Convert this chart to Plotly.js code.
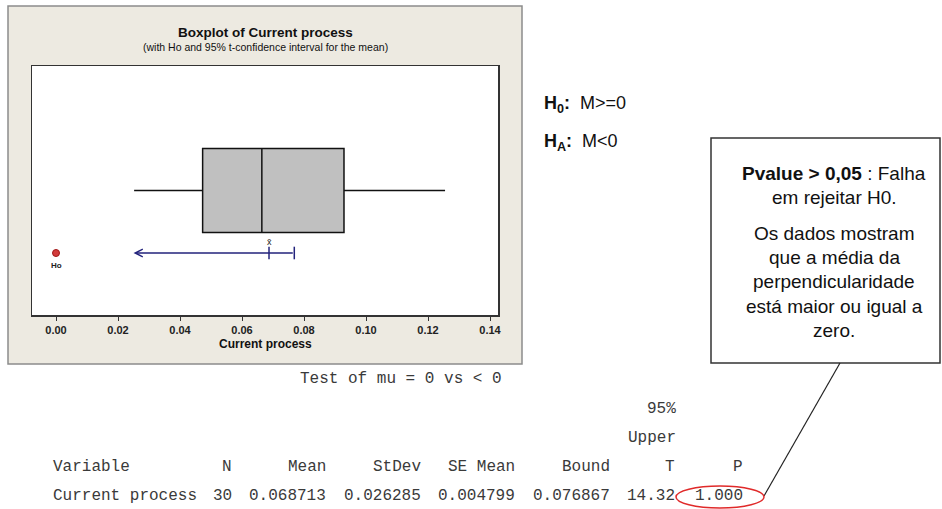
<!DOCTYPE html>
<html>
<head>
<meta charset="utf-8">
<script src="https://cdn.plot.ly/plotly-3.0.1.min.js"></script>
<style>
html,body{margin:0;padding:0;background:#ffffff;}
#chart{width:942px;height:509px;}
</style>
</head>
<body>
<div id="chart"></div>
<script>
// ---------- data ----------
const boxPosition   = [0.5];
const q1Values      = [0.0473];
const medianValues  = [0.0664];
const q3Values      = [0.0929];
const lowerWhisker  = [0.0252];
const upperWhisker  = [0.1255];
const hoValue       = [0.00];
const meanValue     = [0.068713];
const upperBound    = [0.076867];
const arrowTip      = [0.025];
const ciLevel       = [0.249];
const xTickValues   = [0.00, 0.02, 0.04, 0.06, 0.08, 0.10, 0.12, 0.14];

const chartTitle    = 'Boxplot of Current process';
const chartSubtitle = '(with Ho and 95% t-confidence interval for the mean)';
const xAxisTitle    = 'Current process';

const hypothesisLines = ['<b>H<sub>0</sub>:</b>&nbsp; M&gt;=0', '<b>H<sub>A</sub>:</b>&nbsp; M&lt;0'];
const calloutLines = ['<b>Pvalue &gt; 0,05</b> : Falha', 'em rejeitar H0.', 'Os dados mostram',
                      'que a média da', 'perpendicularidade', 'está maior ou igual a', 'zero.'];

const testLine      = 'Test of mu = 0 vs &lt; 0';
const headerTop     = ['95%', 'Upper'];
const tableHeaders  = ['Variable', 'N', 'Mean', 'StDev', 'SE Mean', 'Bound', 'T', 'P'];
const tableRow      = ['Current process', '30', '0.068713', '0.026285', '0.004799', '0.076867', '14.32', '1.000'];

// ---------- layout helpers (pixel -> paper) ----------
const L = 32, T = 66, W = 466, H = 249;
const px = x => (x - L) / W;
const py = y => (T + H - y) / H;

const navy = '#23237c';
const mono = 'Liberation Mono, Courier New, monospace';
const sans = 'Liberation Sans, Arial, sans-serif';

const traces = [
  {
    type: 'box', orientation: 'h',
    y: boxPosition, q1: q1Values, median: medianValues, q3: q3Values,
    lowerfence: lowerWhisker, upperfence: upperWhisker,
    width: 0.337, whiskerwidth: 0, boxpoints: false,
    fillcolor: '#c0c0c0', line: {color: '#111111', width: 1.5},
    hoverinfo: 'skip', showlegend: false
  },
  {
    type: 'scatter', mode: 'markers',
    x: [meanValue[0], upperBound[0]], y: [ciLevel[0], ciLevel[0]],
    marker: {symbol: 'line-ns', size: 9, line: {color: navy, width: 1.5}},
    hoverinfo: 'skip', showlegend: false
  },
  {
    type: 'scatter', mode: 'markers',
    x: hoValue, y: ciLevel,
    marker: {symbol: 'circle', size: 7, color: '#d23b3b', line: {color: '#a01818', width: 1}},
    hoverinfo: 'skip', showlegend: false
  }
];

const annotations = [
  // CI arrow (from upper bound to arrow tip)
  {x: arrowTip[0], y: ciLevel[0], ax: upperBound[0], ay: ciLevel[0], xref: 'x', yref: 'y', axref: 'x', ayref: 'y',
   text: '', showarrow: true, arrowhead: 5, arrowsize: 1, arrowwidth: 1.5, arrowcolor: navy, standoff: 0, startstandoff: 0},
  {x: hoValue[0], y: ciLevel[0], xref: 'x', yref: 'y', text: '<b>Ho</b>', showarrow: false, yshift: -12,
   font: {family: sans, size: 8, color: '#222'}},
  {x: meanValue[0], y: ciLevel[0], xref: 'x', yref: 'y', text: 'x\u0304', showarrow: false, yshift: 11,
   font: {family: sans, size: 9, color: '#222'}},
  {x: 0.5, y: py(344), xref: 'paper', yref: 'paper', text: '<b>' + xAxisTitle + '</b>', showarrow: false,
   yanchor: 'middle', font: {family: sans, size: 12, color: '#111'}},
  {x: 0.5, y: py(33), xref: 'paper', yref: 'paper', text: '<b>' + chartTitle + '</b>', showarrow: false,
   yanchor: 'middle', font: {family: sans, size: 13.5, color: '#111'}},
  {x: 0.5, y: py(47.5), xref: 'paper', yref: 'paper', text: chartSubtitle, showarrow: false,
   yanchor: 'middle', font: {family: sans, size: 10.5, color: '#111'}}
];

const hypY = [105, 142];
hypothesisLines.forEach((t, i) => annotations.push({
  x: px(542), y: py(hypY[i]), xref: 'paper', yref: 'paper', xanchor: 'left', yanchor: 'middle',
  text: t, showarrow: false, font: {family: sans, size: 18, color: '#111'}
}));

const calloutY = [173, 197, 233, 257, 281, 306, 330];
calloutLines.forEach((t, i) => annotations.push({
  x: px(834), y: py(calloutY[i]), xref: 'paper', yref: 'paper', xanchor: 'center', yanchor: 'middle',
  text: t, showarrow: false, font: {family: sans, size: 19, color: '#111'}
}));

const monoFont = {family: mono, size: 16, color: '#3a3a3a'};
annotations.push({x: px(298), y: py(379), xref: 'paper', yref: 'paper', xanchor: 'left', yanchor: 'middle',
  text: testLine, showarrow: false, font: monoFont});
const topY = [409, 438];
headerTop.forEach((t, i) => annotations.push({x: px(678), y: py(topY[i]), xref: 'paper', yref: 'paper',
  xanchor: 'right', yanchor: 'middle', text: t, showarrow: false, font: monoFont}));

const colRight = [null, 234, 328, 423, 517, 612, 677, 745];
[[tableHeaders, 467], [tableRow, 496]].forEach(([cells, yy]) => {
  cells.forEach((t, i) => {
    annotations.push({
      x: i === 0 ? px(51) : px(colRight[i]), y: py(yy), xref: 'paper', yref: 'paper',
      xanchor: i === 0 ? 'left' : 'right', yanchor: 'middle', text: t, showarrow: false, font: monoFont
    });
  });
});

const shapes = [
  {type: 'rect', xref: 'paper', yref: 'paper', x0: px(8), y0: py(6), x1: px(522), y1: py(364),
   fillcolor: '#edeae1', line: {color: '#8c8c8c', width: 1.5}, layer: 'below'},
  {type: 'rect', xref: 'paper', yref: 'paper', x0: 0, y0: 0, x1: 1, y1: 1,
   fillcolor: '#ffffff', line: {width: 0}, layer: 'below'},
  {type: 'rect', xref: 'paper', yref: 'paper', x0: px(711), y0: py(138), x1: px(940), y1: py(363),
   fillcolor: '#ffffff', line: {color: '#333333', width: 1.5}},
  {type: 'line', xref: 'paper', yref: 'paper', x0: px(840), y0: py(363), x1: px(764), y1: py(496),
   line: {color: '#222222', width: 1.2}},
  {type: 'circle', xref: 'paper', yref: 'paper', x0: px(676), y0: py(508), x1: px(764), y1: py(486),
   line: {color: '#e02a2a', width: 1.5}}
];

const layout = {
  width: 942, height: 509,
  margin: {l: L, r: 942 - L - W, t: T, b: 509 - T - H, pad: 0},
  paper_bgcolor: '#ffffff', plot_bgcolor: '#ffffff',
  showlegend: false,
  xaxis: {
    range: [(32 - 56) / 3100, (498 - 56) / 3100],
    tickvals: xTickValues, tickformat: '.2f',
    ticks: 'outside', ticklen: 4, tickwidth: 1, tickcolor: '#333',
    showline: true, mirror: true, linecolor: '#333', linewidth: 1.5,
    showgrid: false, zeroline: false,
    tickfont: {family: sans, size: 11, color: '#222', weight: 'bold'}
  },
  yaxis: {
    range: [0, 1], showticklabels: false, ticks: '',
    showline: true, mirror: true, linecolor: '#333', linewidth: 1.5,
    showgrid: false, zeroline: false
  },
  shapes: shapes,
  annotations: annotations
};

Plotly.newPlot('chart', traces, layout, {displayModeBar: false, staticPlot: true});
</script>
</body>
</html>
